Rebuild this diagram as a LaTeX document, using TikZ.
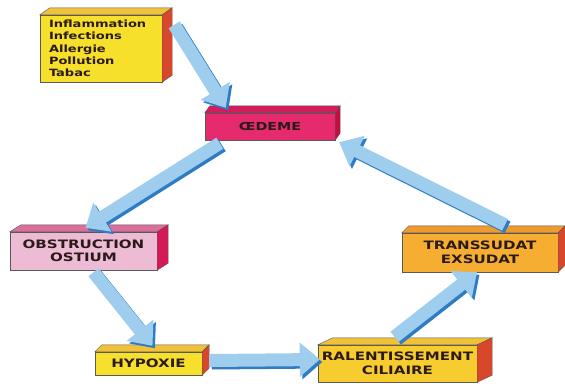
\documentclass[tikz,border=0pt]{standalone}
\usepackage{fontspec}
\newfontfamily\slabfont[FakeStretch=1.3]{DejaVu Sans}
\usetikzlibrary{arrows.meta}

\definecolor{yelfront}{HTML}{F6E02C}
\definecolor{yeltop}{HTML}{EFC23A}
\definecolor{redside}{HTML}{D8462C}
\definecolor{magfront}{HTML}{E62A6E}
\definecolor{magtop}{HTML}{D21C5C}
\definecolor{magside}{HTML}{C01040}
\definecolor{pinkfront}{HTML}{EEBBD4}
\definecolor{pinktop}{HTML}{DA6E9C}
\definecolor{pinkside}{HTML}{D41A56}
\definecolor{orafront}{HTML}{F6AE32}
\definecolor{oratop}{HTML}{EE9A2E}
\definecolor{ralfront}{HTML}{F7CC2E}
\definecolor{arrowlight}{HTML}{9ECDEE}
\definecolor{arrowdark}{HTML}{2E7CC4}
\definecolor{textdark}{HTML}{2A1A1A}

% front face is the node, top and side faces drawn from its anchors
\newcommand{\slab}[4]{%
  \filldraw[face, fill=#3] (#1.north west) -- ++(#2,-7) -- ([shift={(#2,-7)}]#1.north east) -- (#1.north east) -- cycle;
  \filldraw[face, fill=#4] (#1.north east) -- ([shift={(#2,-7)}]#1.north east) -- ([shift={(#2,-7)}]#1.south east) -- (#1.south east) -- cycle;
}

\begin{document}
\begin{tikzpicture}[x=1pt, y=-1pt,
    face/.style={draw=black!65, line width=0.4pt},
    slabnode/.style={face, inner sep=0pt, align=center, text=textdark,
      font=\slabfont\bfseries\fontsize{11.6}{13.5}\selectfont},
    fatarrow/.style={line width=13pt, arrowlight, -{Triangle[width=33pt,length=20pt]}},
    fatshadow/.style={line width=13pt, arrowdark, -{Triangle[width=33pt,length=20pt]},
      transform canvas={xshift=2.5pt,yshift=-2.5pt}}]

    \useasboundingbox (0,0) rectangle (565,383);

    \node[slabnode, fill=yelfront, text width=104pt, align=left, inner xsep=9pt,
      minimum height=67pt, font=\slabfont\bfseries\fontsize{10}{12.3}\selectfont]
      (causes) at (101,48.5) {Inflammation\\Infections\\Allergie\\Pollution\\Tabac};
    \node[slabnode, fill=magfront, minimum width=130pt, minimum height=27pt,
      font=\slabfont\bfseries\fontsize{11}{12}\selectfont] (oedeme) at (270,126.5) {ŒDEME};
    \node[slabnode, fill=pinkfront, minimum width=147pt, minimum height=38pt] (obstr) at (83.5,251) {OBSTRUCTION\\OSTIUM};
    \node[slabnode, fill=orafront, minimum width=156pt, minimum height=39pt] (trans) at (480,252.5) {TRANSSUDAT\\EXSUDAT};
    \node[slabnode, fill=yelfront, minimum width=107pt, minimum height=23pt] (hyp) at (148.5,363.5) {HYPOXIE};
    \node[slabnode, fill=ralfront, minimum width=159pt, minimum height=37pt] (ral) at (397.5,363.5) {RALENTISSEMENT\\CILIAIRE};

    \slab{causes}{10}{yeltop}{redside}
    \slab{oedeme}{5}{magtop}{magside}
    \slab{obstr}{11}{pinktop}{pinkside}
    \slab{trans}{7}{oratop}{redside}
    \slab{hyp}{7}{yeltop}{redside}
    \slab{ral}{15}{yeltop}{redside}

    % arrows round the cycle
    \coordinate (a1) at ([shift={(12,10)}]causes.north east);
    \coordinate (b1) at ([shift={(21,-5)}]oedeme.north west);
    \coordinate (a2) at ([shift={(15,3)}]oedeme.south west);
    \coordinate (b2) at ([shift={(2,-4)}]obstr.north);
    \coordinate (a3) at ([shift={(10,2)}]obstr.south);
    \coordinate (b3) at ([shift={(4,-6)}]hyp.north);
    \coordinate (a4) at ([shift={(7,-3)}]hyp.east);
    \coordinate (b4) at ([shift={(2,-4)}]ral.west);
    \coordinate (a5) at ([shift={(-3,-8)}]ral.north);
    \coordinate (b5) at ([shift={(-3,0)}]trans.south);
    \coordinate (a6) at ([shift={(25,-8)}]trans.north);
    \coordinate (b6) at ([shift={(4,2)}]oedeme.south east);

    \foreach \s/\t in {a1/b1, a2/b2, a3/b3, a4/b4, a5/b5, a6/b6} {
        \draw[fatshadow] (\s) -- (\t);
        \draw[fatarrow] (\s) -- (\t);
    }
\end{tikzpicture}
\end{document}
